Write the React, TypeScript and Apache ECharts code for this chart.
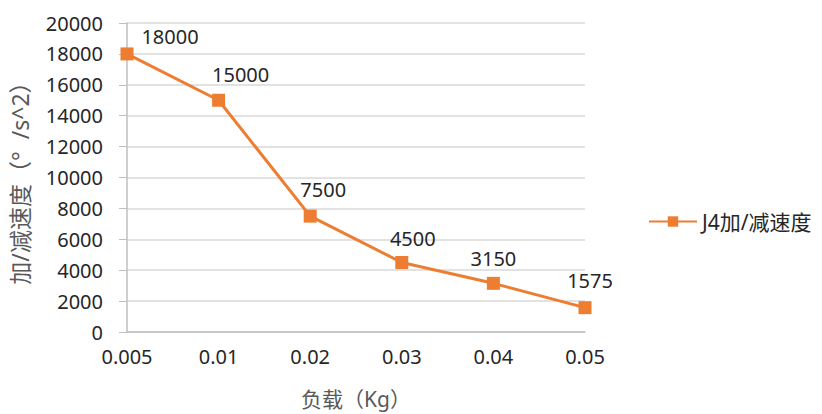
import React, { useEffect, useRef } from "react";
import * as echarts from "echarts";

const categories = ["0.005", "0.01", "0.02", "0.03", "0.04", "0.05"];
const accelValues = [18000, 15000, 7500, 4500, 3150, 1575];
const seriesName = "J4加/减速度";
const xAxisTitle = "负载（Kg）";
const yAxisTitle = "加/减速度（°  /s^2）";
const labelOffsets: [number, number][] = [
  [43, 8],
  [22, 0],
  [13, -1],
  [11, 2],
  [0, 1],
  [5, -2],
];

const FONT = "'Noto Sans', 'Noto Sans CJK SC', sans-serif";

export default function App() {
  const ref = useRef<HTMLDivElement>(null);
  useEffect(() => {
    if (!ref.current) return;
    const chart = echarts.init(ref.current, undefined, { renderer: "svg" });
    chart.setOption({
      animation: false,
      backgroundColor: "#ffffff",
      textStyle: { fontFamily: FONT },
      grid: { left: 127, right: 237, top: 23, bottom: 82, containLabel: false },
      legend: {
        data: [seriesName],
        left: 643,
        top: 206,
        itemWidth: 48,
        itemHeight: 13,
        itemGap: 6,
        textStyle: { fontSize: 21, color: "#262626", fontFamily: FONT },
      },
      xAxis: {
        type: "category",
        data: categories,
        boundaryGap: false,
        axisLine: { lineStyle: { color: "#bfbfbf", width: 1.5 } },
        axisTick: { show: false },
        axisLabel: { fontSize: 20, color: "#262626", margin: 14, fontFamily: FONT },
        name: xAxisTitle,
        nameLocation: "middle",
        nameGap: 56,
        nameTextStyle: { fontSize: 21, color: "#595959", fontFamily: FONT },
      },
      yAxis: {
        type: "value",
        min: 0,
        max: 20000,
        interval: 2000,
        axisLine: { show: true, lineStyle: { color: "#bfbfbf", width: 1.5 } },
        axisTick: { show: true, length: 8, lineStyle: { color: "#bfbfbf" } },
        axisLabel: {
          fontSize: 20,
          color: "#262626",
          margin: 24,
          fontFamily: FONT,
          formatter: (v: number) => String(v),
        },
        splitLine: { lineStyle: { color: "#d9d9d9", width: 1.5 } },
        name: yAxisTitle,
        nameLocation: "middle",
        nameGap: 96,
        nameTextStyle: { fontSize: 23, color: "#595959", fontFamily: FONT },
      },
      series: [
        {
          name: seriesName,
          type: "line",
          data: accelValues.map((v, i) => ({
            value: v,
            label: { offset: labelOffsets[i] },
          })),
          symbol: "rect",
          symbolSize: 13,
          lineStyle: { color: "#ED7D31", width: 3 },
          itemStyle: { color: "#ED7D31" },
          label: {
            show: true,
            position: "top",
            distance: 9,
            fontSize: 20,
            color: "#262626",
            fontFamily: FONT,
          },
        },
      ],
    });
    return () => chart.dispose();
  }, []);
  return <div ref={ref} style={{ width: 822, height: 414, position: "absolute", left: 0, top: 0 }} />;
}
